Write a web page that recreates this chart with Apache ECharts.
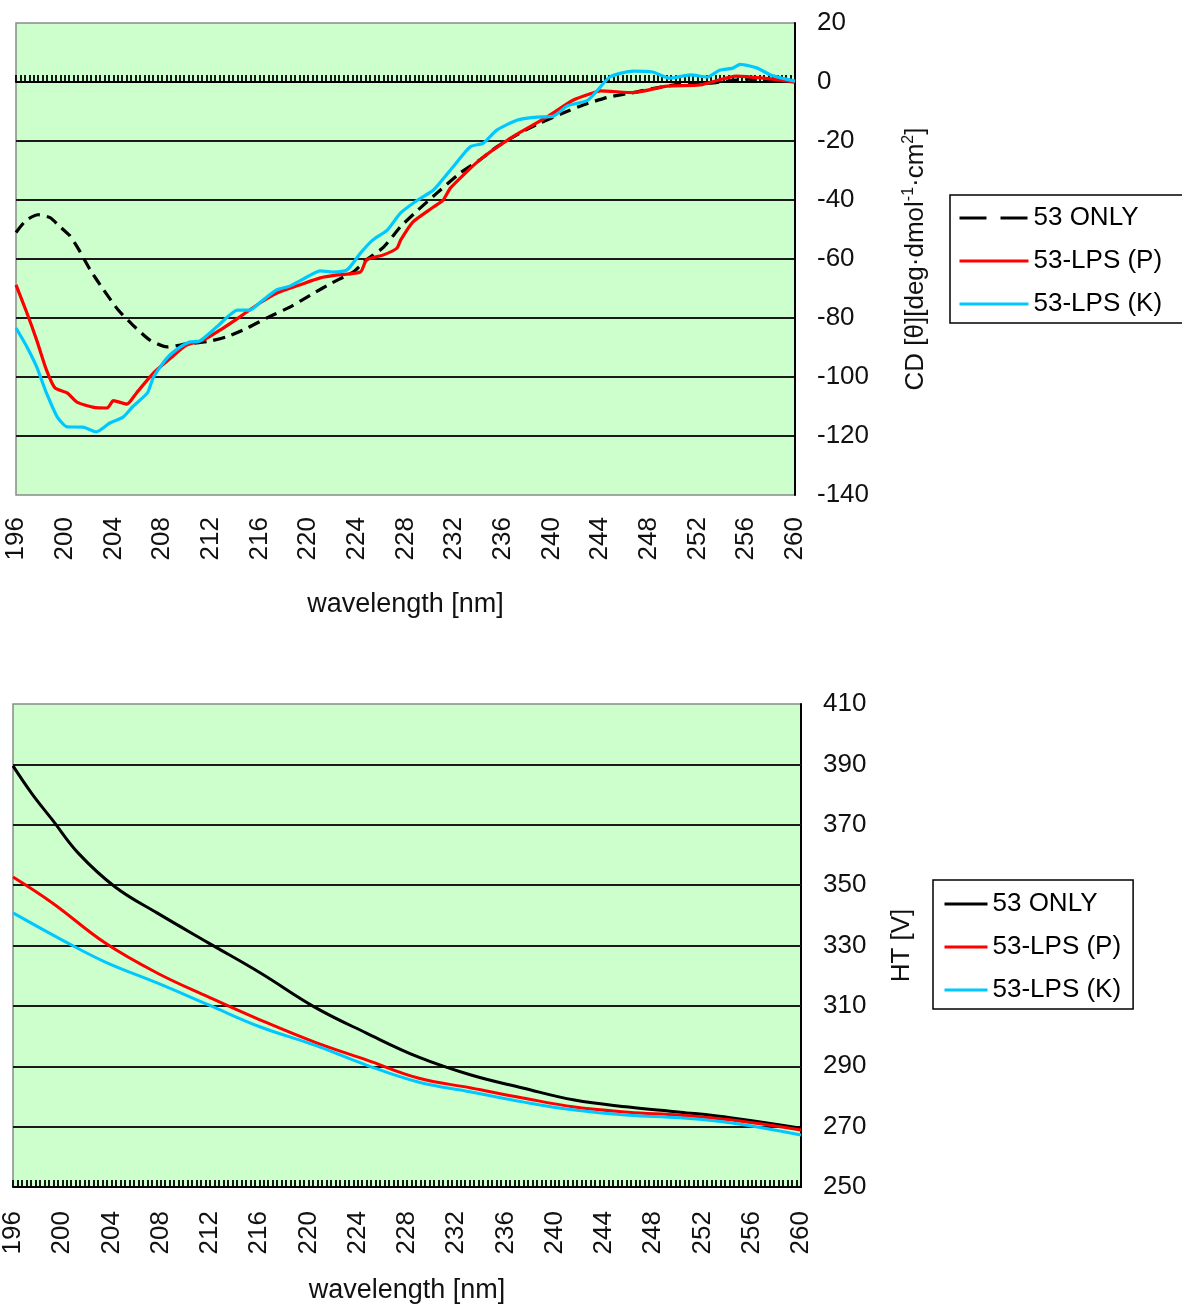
<!DOCTYPE html>
<html>
<head>
<meta charset="utf-8">
<script src="https://cdn.jsdelivr.net/npm/echarts@6/dist/echarts.min.js"></script>
<style>
  html, body { margin: 0; padding: 0; background: #fff; }
  #main { width: 1182px; height: 1306px; }
</style>
</head>
<body>
<div id="main"></div>
<script>
// CD spectra (top panel)
var cdOnlyNm = [196, 196.8, 197.8, 198.8, 199.6, 200.4, 201.1, 202.1, 203.2, 204.4, 205.6, 207, 208.4, 210, 211.7, 213.3, 215, 216.6, 218.5, 220.2, 222, 223.7, 224.8, 226.2, 227.6, 229, 230.6, 232.5, 234.1, 235.5, 237.4, 239, 240.9, 242.6, 244.6, 246.7, 248.3, 250.6, 253.3, 256, 258.2, 260];
var cdOnlyVal = [-51, -47, -45, -46, -49, -52, -56.4, -63.7, -70.5, -77.3, -82.4, -87.5, -89.8, -88.8, -88, -86.4, -83.4, -80, -76.3, -72.2, -68, -64.4, -60.3, -56, -49, -43.5, -37.6, -30.8, -26.4, -22, -17.3, -14, -10.6, -7.8, -5.2, -3.6, -2.2, -0.7, -0.3, 1, 0.7, 0];

var cdPNm = [196, 196.9, 197.7, 198.5, 199.2, 200.2, 201, 202.3, 203.5, 204, 205.1, 205.9, 207.3, 208.7, 210, 211.4, 212.8, 214.4, 216, 217.4, 219.3, 221, 222.4, 224.3, 224.8, 226.2, 227.3, 227.6, 228.6, 230.3, 231.1, 231.7, 234.1, 236.8, 239.6, 241.8, 243.4, 244, 246.7, 249.5, 252.2, 255.2, 257.4, 260];
var cdPVal = [-68.8, -78.3, -87.5, -97.6, -103.7, -105.4, -108.5, -110.2, -110.5, -108, -109.2, -105.4, -98.6, -93.6, -89.2, -87.5, -84, -79.6, -75, -71.6, -68.8, -66.4, -65.4, -64.4, -60.3, -58.6, -56.3, -53.6, -47.5, -42.4, -40, -35.9, -26.4, -18.6, -11.9, -6.1, -3.7, -3, -3.6, -1.4, -1, 2, 1.3, 0];

var cdKNm = [196, 196.9, 197.7, 198.5, 199.4, 200.2, 201.5, 202.6, 203.7, 204.8, 205.6, 206.8, 207.3, 208.4, 209.5, 210.3, 211.1, 212.5, 214.2, 215.2, 216.3, 217.4, 218.5, 219.9, 221, 222, 223.2, 224.3, 225.3, 226.5, 227.6, 229, 230.3, 231.9, 233.3, 234.4, 235.5, 237.2, 238.8, 240.2, 241.3, 243, 244.8, 246.7, 248.3, 249.7, 251.4, 252.8, 253.8, 254.9, 255.5, 256.9, 258, 260];
var cdKVal = [-83.4, -89.8, -96.6, -105.4, -113.6, -116.9, -117, -118.6, -115.6, -113.6, -110, -105.4, -100, -93.6, -89.8, -88.1, -87.8, -83, -77.3, -77.3, -73.9, -70.5, -69.2, -66.1, -64, -64.4, -63.7, -58, -53.6, -50.2, -44.4, -40, -36.6, -28.8, -22, -20.7, -16.3, -12.9, -11.9, -11.5, -8.1, -6.1, 1.7, 3.7, 3.4, 1.3, 2.4, 1.7, 4, 4.7, 6, 4.7, 2.4, 0.3];

// HT voltage (bottom panel)
var htOnlyNm = [196, 197.5, 199.2, 201.3, 204.3, 207.7, 211.9, 216.1, 220.5, 224.7, 228.9, 233.2, 237.4, 241.6, 246, 250.2, 254.4, 260];
var htOnlyVal = [389.5, 380.5, 371.6, 360.6, 349.4, 340.8, 330.8, 320.9, 309.6, 301, 293.1, 287.1, 282.8, 278.8, 276.5, 274.8, 272.9, 269.5];

var htPNm = [196, 199.2, 203.5, 207.7, 211.9, 216.1, 220.5, 224.7, 228.9, 233.2, 237.4, 241.6, 246, 250.2, 254.4, 260];
var htPVal = [352.7, 344.1, 330.8, 320.9, 312.9, 305.3, 298, 292.1, 286.1, 282.8, 279.5, 276.5, 274.8, 273.8, 272.2, 268.9];

var htKNm = [196, 200, 203.5, 207.7, 211.9, 216.1, 220.5, 224.7, 228.9, 233.2, 237.4, 241.6, 246, 250.2, 254.4, 260];
var htKVal = [340.8, 331.8, 324.5, 317.6, 310.3, 303, 297, 290.4, 284.8, 281.5, 278.2, 275.5, 273.8, 272.9, 271.2, 267.2];

var seriesNames = ['53 ONLY', '53-LPS (P)', '53-LPS (K)'];
var htGridValues = [270, 290, 310, 330, 350, 370, 390];

var FONT = '"Liberation Sans", Arial, sans-serif';
var TXT = '#111';

function zip(xs, ys) {
    var out = [];
    for (var i = 0; i < xs.length; i++) {
        out.push([xs[i], ys[i]]);
    }
    return out;
}

var chart = echarts.init(document.getElementById('main'), null, { renderer: 'canvas' });

//轴公共样式
var labelStyle = { fontSize: 26, color: TXT, fontFamily: FONT };
var gridLine = { color: '#1a1a1a', width: 2 };
var legendText = { fontSize: 26, color: '#000', fontFamily: FONT, lineHeight: 30 };

var option = {
    animation: false,
    backgroundColor: '#fff',
    grid: [
        { left: 16, top: 23, width: 779, height: 472, show: true, backgroundColor: '#ccffcc', borderColor: '#8a8a8a', borderWidth: 1.5 },
        { left: 13, top: 704, width: 788, height: 483, show: true, backgroundColor: '#ccffcc', borderColor: '#8a8a8a', borderWidth: 1.5 }
    ],
    xAxis: [
        {   // labels of top panel, at bottom of plot
            gridIndex: 0, type: 'value', min: 196, max: 260, interval: 4, position: 'bottom',
            axisLine: { show: false, onZero: false },
            axisTick: { show: false },
            splitLine: { show: false },
            axisLabel: Object.assign({ rotate: 90, margin: 22, showMinLabel: true, showMaxLabel: true }, labelStyle),
            name: 'wavelength [nm]', nameLocation: 'middle', nameGap: 96,
            nameTextStyle: { fontSize: 27, color: TXT, fontFamily: FONT }
        },
        {   // axis line with ticks at y = 0
            gridIndex: 0, type: 'value', min: 196, max: 260, interval: 4, position: 'bottom',
            axisLine: { show: true, onZero: true, lineStyle: { color: '#000', width: 2 } },
            axisTick: { show: true, inside: true, length: 7, lineStyle: { color: '#000', width: 1.8 } },
            minorTick: { show: true, splitNumber: 11, length: 7, lineStyle: { color: '#000', width: 1.8 } },
            axisLabel: { show: false },
            splitLine: { show: false }
        },
        {
            gridIndex: 1, type: 'value', min: 196, max: 260, interval: 4, position: 'bottom',
            axisLine: { show: true, onZero: false, lineStyle: { color: '#000', width: 2 } },
            axisTick: { show: true, inside: true, length: 7, lineStyle: { color: '#000', width: 1.8 } },
            minorTick: { show: true, splitNumber: 11, length: 7, lineStyle: { color: '#000', width: 1.8 } },
            splitLine: { show: false },
            axisLabel: Object.assign({ rotate: 90, margin: 24, showMinLabel: true, showMaxLabel: true }, labelStyle),
            name: 'wavelength [nm]', nameLocation: 'middle', nameGap: 90,
            nameTextStyle: { fontSize: 27, color: TXT, fontFamily: FONT }
        }
    ],
    yAxis: [
        {
            gridIndex: 0, type: 'value', position: 'right', min: -140, max: 20, interval: 20,
            axisLine: { show: true, onZero: false, lineStyle: { color: '#000', width: 2 } },
            axisTick: { show: false },
            axisLabel: Object.assign({ margin: 22 }, labelStyle),
            splitLine: { show: true, lineStyle: gridLine, showMinLine: false, showMaxLine: false },
            name: 'CD [θ][deg·dmol{sup|-1}·cm{sup|2}]',
            nameLocation: 'middle', nameGap: 106,
            nameTextStyle: {
                fontSize: 26, color: TXT, fontFamily: FONT, lineHeight: 30,
                rich: { sup: { fontSize: 16, color: TXT, fontFamily: FONT, verticalAlign: 'top', lineHeight: 30 } }
            }
        },
        {
            gridIndex: 1, type: 'value', position: 'right', min: 250, max: 410, interval: 10,
            axisLine: { show: true, onZero: false, lineStyle: { color: '#000', width: 2 } },
            axisTick: { show: false },
            axisLabel: Object.assign({
                margin: 22,
                formatter: function (v) { return (v - 250) % 20 === 0 ? String(v) : ''; }
            }, labelStyle),
            splitLine: { show: false },
            name: 'HT [V]', nameLocation: 'middle', nameGap: 88,
            nameTextStyle: { fontSize: 26, color: TXT, fontFamily: FONT }
        }
    ],
    legend: [
        {
            orient: 'vertical', left: 950, top: 195,
            data: [
                { name: seriesNames[0], lineStyle: { type: [27, 14] } },
                seriesNames[1],
                seriesNames[2]
            ],
            itemWidth: 69, itemHeight: 14, itemGap: 13,
            padding: [8, 40, 4, 8],
            itemStyle: { opacity: 0 },
            lineStyle: { width: 3 },
            backgroundColor: '#fff', borderColor: '#000', borderWidth: 1.5, borderRadius: 0,
            textStyle: legendText
        },
        {
            orient: 'vertical', left: 933, top: 880,
            data: [
                { name: seriesNames[0], lineStyle: { type: 'solid' } },
                seriesNames[1],
                seriesNames[2]
            ],
            itemWidth: 43, itemHeight: 14, itemGap: 13,
            padding: [9, 12, 4, 10],
            itemStyle: { opacity: 0 },
            lineStyle: { width: 3 },
            backgroundColor: '#fff', borderColor: '#000', borderWidth: 1.5, borderRadius: 0,
            textStyle: legendText
        }
    ],
    series: [
        {
            name: seriesNames[0], type: 'line', xAxisIndex: 0, yAxisIndex: 0,
            data: zip(cdOnlyNm, cdOnlyVal), symbol: 'none', smooth: 0.2, color: '#000',
            lineStyle: { color: '#000', width: 3.2, type: [12, 7] }
        },
        {
            name: seriesNames[1], type: 'line', xAxisIndex: 0, yAxisIndex: 0,
            data: zip(cdPNm, cdPVal), symbol: 'none', smooth: 0.2, color: '#ff0000',
            lineStyle: { color: '#ff0000', width: 3.2 }
        },
        {
            name: seriesNames[2], type: 'line', xAxisIndex: 0, yAxisIndex: 0,
            data: zip(cdKNm, cdKVal), symbol: 'none', smooth: 0.2, color: '#00c8ff',
            lineStyle: { color: '#00c8ff', width: 3.2 }
        },
        {
            name: seriesNames[0], type: 'line', xAxisIndex: 2, yAxisIndex: 1,
            data: zip(htOnlyNm, htOnlyVal), symbol: 'none', smooth: 0.4, color: '#000',
            lineStyle: { color: '#000', width: 3 },
            markLine: {
                silent: true, symbol: ['none', 'none'], z: 1, animation: false,
                label: { show: false },
                lineStyle: { color: '#1a1a1a', width: 2, type: 'solid' },
                emphasis: { disabled: true },
                data: htGridValues.map(function (v) { return { yAxis: v }; })
            }
        },
        {
            name: seriesNames[1], type: 'line', xAxisIndex: 2, yAxisIndex: 1,
            data: zip(htPNm, htPVal), symbol: 'none', smooth: 0.4, color: '#ff0000',
            lineStyle: { color: '#ff0000', width: 3 }
        },
        {
            name: seriesNames[2], type: 'line', xAxisIndex: 2, yAxisIndex: 1,
            data: zip(htKNm, htKVal), symbol: 'none', smooth: 0.4, color: '#00c8ff',
            lineStyle: { color: '#00c8ff', width: 3 }
        }
    ]
};

chart.setOption(option);
</script>
</body>
</html>
